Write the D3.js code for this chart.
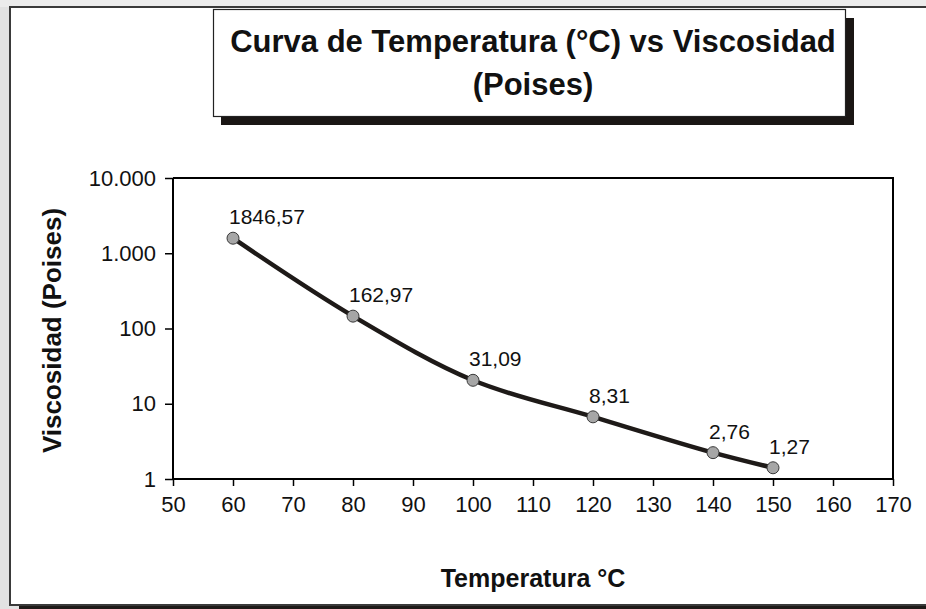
<!DOCTYPE html>
<html>
<head>
<meta charset="utf-8">
<script src="https://cdn.jsdelivr.net/npm/d3@7"></script>
<style>
  html, body { margin: 0; padding: 0; background: #e2e2e2; }
  svg { display: block; }
  text { font-family: Arial, "Liberation Sans", sans-serif; fill: #111; }
</style>
</head>
<body>
<script>
// ---- data ----
const temperatures = [60, 80, 100, 120, 140, 150];
const viscosities = [1585, 146, 20.5, 6.7, 2.24, 1.41];
const pointLabels = ["1846,57", "162,97", "31,09", "8,31", "2,76", "1,27"];
const xTicks = [50, 60, 70, 80, 90, 100, 110, 120, 130, 140, 150, 160, 170];
const yTicks = [1, 10, 100, 1000, 10000];
const yTickLabels = ["1", "10", "100", "1.000", "10.000"];
const titleLines = ["Curva de Temperatura (°C) vs Viscosidad", "(Poises)"];
const xTitle = "Temperatura °C";
const yTitle = "Viscosidad (Poises)";

const W = 926, H = 609;
const svg = d3.select("body").append("svg").attr("width", W).attr("height", H);

// page background + panel
svg.append("rect").attr("x", 0).attr("y", 0).attr("width", W).attr("height", H).attr("fill", "#e2e2e2");
svg.append("rect").attr("x", 0).attr("y", 0).attr("width", W).attr("height", 7).attr("fill", "#ececec");
svg.append("rect").attr("x", 19).attr("y", 606).attr("width", W - 19).attr("height", 3).attr("fill", "#1e1a18");
svg.append("rect").attr("x", 10).attr("y", 7).attr("width", W + 10).attr("height", 598)
  .attr("fill", "#fff").attr("stroke", "#3a3a3a").attr("stroke-width", 2);

// title box with shadow
svg.append("rect").attr("x", 221).attr("y", 18).attr("width", 633).attr("height", 107).attr("fill", "#1a1614");
svg.append("rect").attr("x", 213.5).attr("y", 9.5).attr("width", 632).attr("height", 107)
  .attr("fill", "#fff").attr("stroke", "#222").attr("stroke-width", 1.2);
svg.append("g").selectAll("text").data(titleLines).join("text")
  .attr("x", 533).attr("y", (d, i) => 52 + i * 43)
  .attr("text-anchor", "middle").attr("font-weight", "bold").attr("font-size", 31)
  .text(d => d);

// scales
const plot = { left: 173, right: 893, top: 178, bottom: 479 };
const x = d3.scaleLinear().domain([50, 170]).range([plot.left, plot.right]);
const y = d3.scaleLog().domain([1, 10000]).range([plot.bottom, plot.top]);

// plot frame (top, right)
svg.append("path")
  .attr("d", `M${plot.left},${plot.top}H${plot.right}V${plot.bottom}`)
  .attr("fill", "none").attr("stroke", "#000").attr("stroke-width", 2);

// axes
const xAxis = d3.axisBottom(x).tickValues(xTicks).tickSize(7).tickPadding(10).tickFormat(d3.format("d"));
const gx = svg.append("g").attr("transform", `translate(0,${plot.bottom})`).call(xAxis);
const yAxis = d3.axisLeft(y).tickValues(yTicks).tickSize(8).tickPadding(9)
  .tickFormat((d, i) => yTickLabels[i]);
const gy = svg.append("g").attr("transform", `translate(${plot.left},0)`).call(yAxis);
[gx, gy].forEach(g => {
  g.select(".domain").attr("stroke", "#000").attr("stroke-width", 2);
  g.selectAll(".tick line").attr("stroke", "#000").attr("stroke-width", 1.5);
  g.selectAll(".tick text").attr("font-size", 22).attr("fill", "#1a1a1a")
    .attr("font-family", "Arial, 'Liberation Sans', sans-serif");
});
gx.select(".domain").attr("d", `M${plot.left},0H${plot.right}`);
gy.select(".domain").attr("d", `M0,${plot.bottom}V${plot.top}`);

// axis titles
svg.append("text").attr("x", 533).attr("y", 587).attr("text-anchor", "middle")
  .attr("font-weight", "bold").attr("font-size", 25).text(xTitle);
svg.append("text").attr("transform", `translate(61,${(plot.top + plot.bottom) / 2 + 2}) rotate(-90)`)
  .attr("text-anchor", "middle").attr("font-weight", "bold").attr("font-size", 26).text(yTitle);

// line
const data = temperatures.map((t, i) => ({ t, v: viscosities[i], label: pointLabels[i] }));
const line = d3.line().x(d => x(d.t)).y(d => y(d.v)).curve(d3.curveCatmullRom.alpha(0.5));
svg.append("path").datum(data).attr("d", line)
  .attr("fill", "none").attr("stroke", "#1e1a18").attr("stroke-width", 4.5)
  .attr("stroke-linejoin", "round");

// markers
svg.append("g").selectAll("circle").data(data).join("circle")
  .attr("cx", d => x(d.t)).attr("cy", d => y(d.v)).attr("r", 6)
  .attr("fill", "#a6a6a6").attr("stroke", "#3a3a3a").attr("stroke-width", 1);

// labels
svg.append("g").selectAll("text").data(data).join("text")
  .attr("x", d => x(d.t) - 4).attr("y", d => y(d.v) - 14)
  .attr("font-size", 21).attr("fill", "#1a1a1a").text(d => d.label);
</script>
</body>
</html>
